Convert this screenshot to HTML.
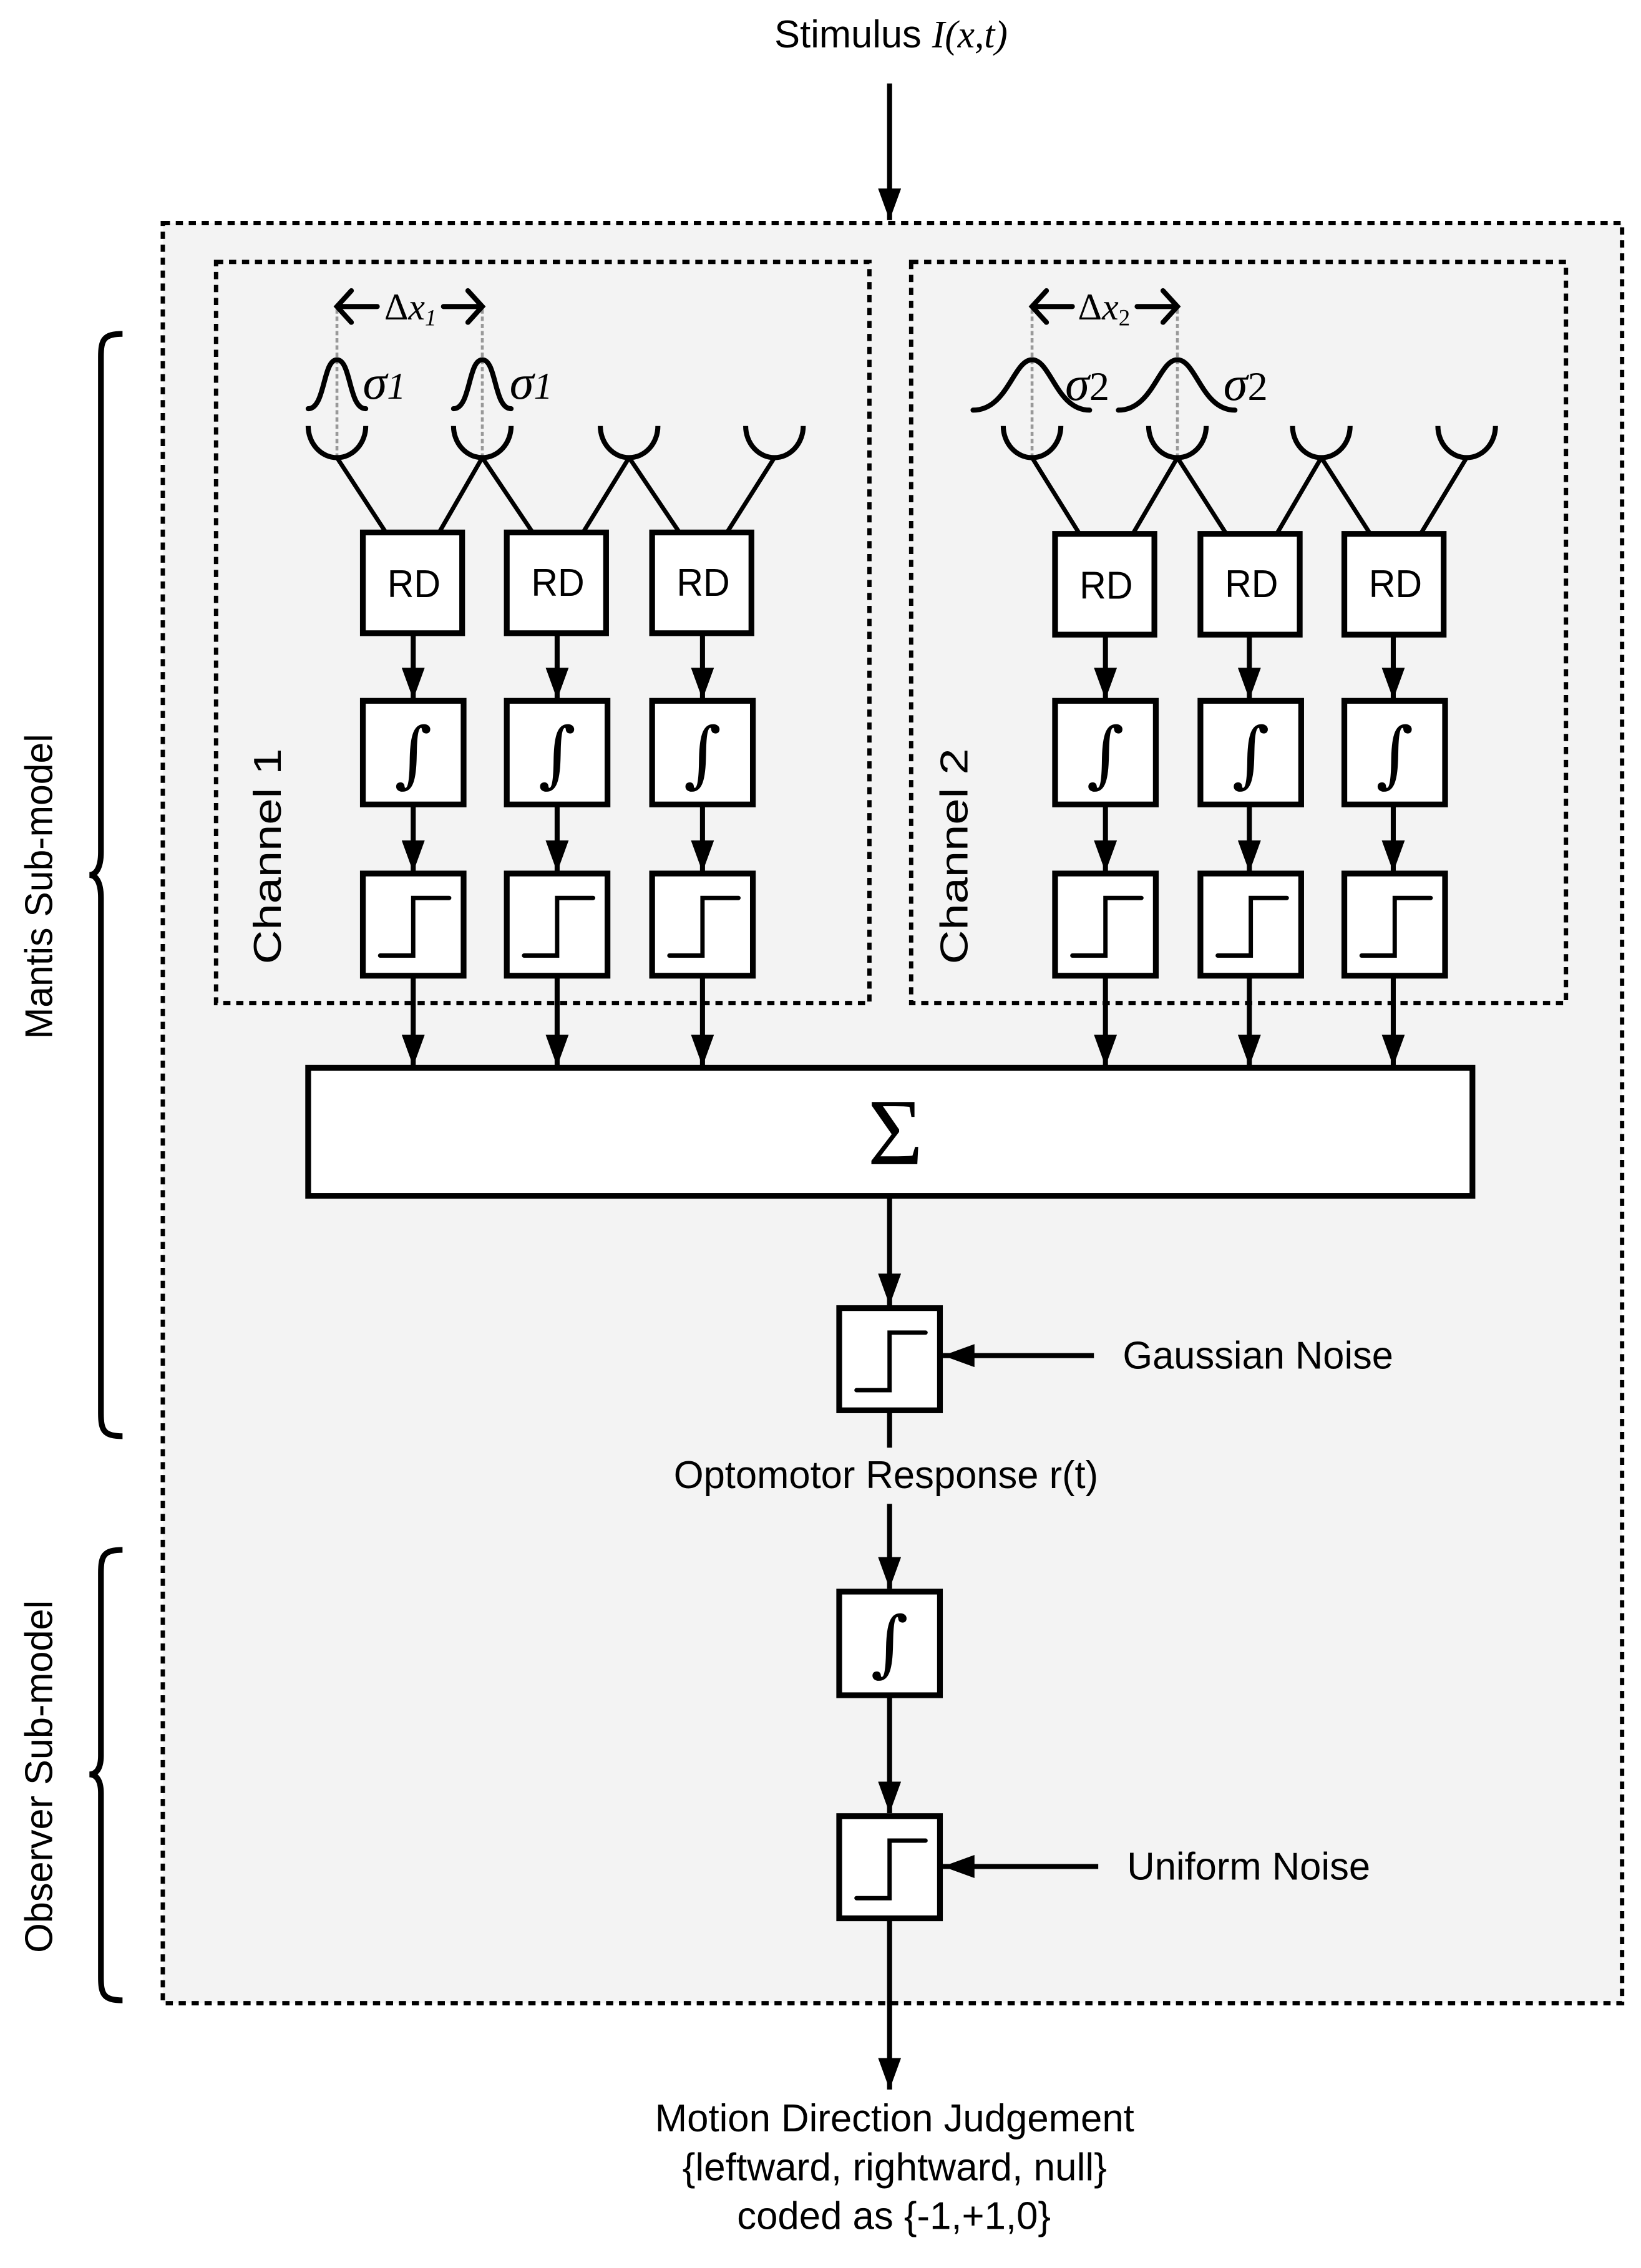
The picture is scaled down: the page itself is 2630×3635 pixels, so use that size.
<!DOCTYPE html>
<html><head><meta charset="utf-8"><style>html,body{margin:0;padding:0;background:#fff}svg{display:block}</style></head>
<body>
<svg xmlns="http://www.w3.org/2000/svg" width="2630" height="3635" viewBox="0 0 1140 1576" font-family="Liberation Sans, sans-serif">
<defs>
<marker id="ah" markerWidth="22" markerHeight="16" refX="22" refY="8" orient="auto" markerUnits="userSpaceOnUse" viewBox="0 0 22 16"><path d="M0,0 L22,8 L0,16 Z" fill="#000"/></marker>
<g id="stepbox"><rect x="0" y="0" width="70" height="71" fill="#fff" stroke="#000" stroke-width="4"/><path d="M12,57 H35 V17 H60" fill="none" stroke="#000" stroke-width="3" stroke-linecap="round"/></g>
<g id="intbox"><rect x="0" y="0" width="70" height="72" fill="#fff" stroke="#000" stroke-width="4"/></g>
<g id="rdbox"><rect x="0" y="0" width="69" height="70" fill="#fff" stroke="#000" stroke-width="4"/></g>
<path id="cup" d="M-20,296 A20,22 0 0 0 20,296" fill="none" stroke="#000" stroke-width="3.5"/>
</defs>
<rect width="1140" height="1576" fill="#fff"/>
<rect x="113" y="155" width="1014" height="1237" fill="#f3f3f3" stroke="#000" stroke-width="3" stroke-dasharray="5,4"/>
<rect x="150" y="182" width="454" height="515" fill="none" stroke="#000" stroke-width="3" stroke-dasharray="5,4"/>
<rect x="633" y="182" width="455" height="515" fill="none" stroke="#000" stroke-width="3" stroke-dasharray="5,4"/>

<text x="538" y="33" font-size="27" textLength="162" lengthAdjust="spacingAndGlyphs">Stimulus <tspan font-family="Liberation Serif, serif" font-style="italic">I(x,t)</tspan></text>
<line x1="618" y1="58" x2="618" y2="153" stroke="#000" stroke-width="3.5" marker-end="url(#ah)"/>

<g stroke="#999" stroke-width="2" stroke-dasharray="3,2">
<line x1="234" y1="215" x2="234" y2="318"/><line x1="335" y1="215" x2="335" y2="318"/>
<line x1="717" y1="215" x2="717" y2="318"/><line x1="818" y1="215" x2="818" y2="318"/>
</g>
<g stroke="#000" stroke-width="3.5" fill="none" stroke-linecap="round">
<path d="M234,213 H262 M308,213 H335 M244,202 L234,213 L244,224 M325,202 L335,213 L325,224"/>
<path d="M717,213 H745 M790,213 H818 M727,202 L717,213 L727,224 M808,202 L818,213 L808,224"/>
</g>
<g stroke="#000" stroke-width="3.5" fill="none" stroke-linecap="round">
<path d="M214,284 C226,284 224,250 234,250 C244,250 242,284 254,284"/>
<path d="M315,284 C327,284 325,250 335,250 C345,250 343,284 355,284"/>
<path d="M676,285 C700,285 704,250 717,250 C730,250 734,285 757,285"/>
<path d="M777,285 C801,285 805,250 818,250 C831,250 835,285 858,285"/>
</g>
<text x="285" y="222" font-size="26" font-family="Liberation Serif, serif" text-anchor="middle">Δ<tspan font-style="italic">x</tspan><tspan font-size="16" dy="4" font-style="italic">1</tspan></text>
<text x="767" y="222" font-size="26" font-family="Liberation Serif, serif" text-anchor="middle">Δ<tspan font-style="italic">x</tspan><tspan font-size="16" dy="4">2</tspan></text>
<g font-family="Liberation Serif, serif" font-style="italic" font-size="34">
<text x="252" y="277">σ<tspan font-size="26">1</tspan></text>
<text x="354" y="277">σ<tspan font-size="26">1</tspan></text>
<text x="740" y="278">σ<tspan font-size="28" font-style="normal">2</tspan></text>
<text x="850" y="278">σ<tspan font-size="28" font-style="normal">2</tspan></text>
</g>
<g>
<use href="#cup" x="234"/><use href="#cup" x="335"/><use href="#cup" x="437"/><use href="#cup" x="538"/>
<use href="#cup" x="717"/><use href="#cup" x="818"/><use href="#cup" x="918"/><use href="#cup" x="1019"/>
</g>
<g stroke="#000" stroke-width="3">
<line x1="234" y1="318" x2="268" y2="370"/><line x1="335" y1="318" x2="305" y2="370"/><line x1="335" y1="318" x2="370" y2="370"/>
<line x1="437" y1="318" x2="405" y2="370"/><line x1="437" y1="318" x2="472" y2="370"/><line x1="538" y1="318" x2="505" y2="370"/>
<line x1="717" y1="318" x2="750" y2="371"/><line x1="818" y1="318" x2="787" y2="371"/><line x1="818" y1="318" x2="852" y2="371"/>
<line x1="918" y1="318" x2="887" y2="371"/><line x1="918" y1="318" x2="952" y2="371"/><line x1="1019" y1="318" x2="987" y2="371"/>
</g>
<g stroke="#000" stroke-width="3.5" marker-end="url(#ah)">
<line x1="287" y1="440" x2="287" y2="486"/><line x1="387" y1="440" x2="387" y2="486"/><line x1="488" y1="440" x2="488" y2="486"/>
<line x1="768" y1="441" x2="768" y2="486"/><line x1="868" y1="441" x2="868" y2="486"/><line x1="968" y1="441" x2="968" y2="486"/>
<line x1="287" y1="559" x2="287" y2="606"/><line x1="387" y1="559" x2="387" y2="606"/><line x1="488" y1="559" x2="488" y2="606"/>
<line x1="768" y1="559" x2="768" y2="606"/><line x1="868" y1="559" x2="868" y2="606"/><line x1="968" y1="559" x2="968" y2="606"/>
<line x1="287" y1="678" x2="287" y2="741"/><line x1="387" y1="678" x2="387" y2="741"/><line x1="488" y1="678" x2="488" y2="741"/>
<line x1="768" y1="678" x2="768" y2="741"/><line x1="868" y1="678" x2="868" y2="741"/><line x1="968" y1="678" x2="968" y2="741"/>
</g>
<g>
<use href="#rdbox" x="252" y="370"/><use href="#rdbox" x="352" y="370"/><use href="#rdbox" x="453" y="370"/>
<use href="#rdbox" x="733" y="371"/><use href="#rdbox" x="834" y="371"/><use href="#rdbox" x="934" y="371"/>
<use href="#intbox" x="252" y="487"/><use href="#intbox" x="352" y="487"/><use href="#intbox" x="453" y="487"/>
<use href="#intbox" x="733" y="487"/><use href="#intbox" x="834" y="487"/><use href="#intbox" x="934" y="487"/>
<use href="#stepbox" x="252" y="607"/><use href="#stepbox" x="352" y="607"/><use href="#stepbox" x="453" y="607"/>
<use href="#stepbox" x="733" y="607"/><use href="#stepbox" x="834" y="607"/><use href="#stepbox" x="934" y="607"/>
</g>
<g font-size="27">
<text x="269" y="415" textLength="37" lengthAdjust="spacingAndGlyphs">RD</text>
<text x="369" y="414" textLength="37" lengthAdjust="spacingAndGlyphs">RD</text>
<text x="470" y="414" textLength="37" lengthAdjust="spacingAndGlyphs">RD</text>
<text x="750" y="416" textLength="37" lengthAdjust="spacingAndGlyphs">RD</text>
<text x="851" y="415" textLength="37" lengthAdjust="spacingAndGlyphs">RD</text>
<text x="951" y="415" textLength="37" lengthAdjust="spacingAndGlyphs">RD</text>
</g>
<g font-family="DejaVu Serif, Liberation Serif, serif" font-style="italic" font-size="50" text-anchor="middle">
<text x="287" y="541">∫</text><text x="387" y="541">∫</text><text x="488" y="541">∫</text>
<text x="768" y="541">∫</text><text x="869" y="541">∫</text><text x="969" y="541">∫</text>
<text x="618" y="1159">∫</text>
</g>
<text transform="translate(195,670) rotate(-90)" font-size="27" textLength="150" lengthAdjust="spacingAndGlyphs">Channel 1</text>
<text transform="translate(672,670) rotate(-90)" font-size="27" textLength="150" lengthAdjust="spacingAndGlyphs">Channel 2</text>

<rect x="214" y="742" width="809" height="89" fill="#fff" stroke="#000" stroke-width="4"/>
<text x="622" y="809" font-family="Liberation Serif, serif" font-size="66" text-anchor="middle">Σ</text>
<line x1="618" y1="831" x2="618" y2="907" stroke="#000" stroke-width="3.5" marker-end="url(#ah)"/>
<use href="#stepbox" x="583" y="909"/>
<line x1="760" y1="942" x2="655" y2="942" stroke="#000" stroke-width="3.5" marker-end="url(#ah)"/>
<text x="780" y="951" font-size="27" textLength="188" lengthAdjust="spacingAndGlyphs">Gaussian Noise</text>
<line x1="618" y1="980" x2="618" y2="1006" stroke="#000" stroke-width="3.5"/>
<text x="468" y="1034" font-size="27" textLength="295" lengthAdjust="spacingAndGlyphs">Optomotor Response r(t)</text>
<line x1="618" y1="1045" x2="618" y2="1104" stroke="#000" stroke-width="3.5" marker-end="url(#ah)"/>
<use href="#intbox" x="583" y="1106"/>
<text x="618" y="1159" font-family="DejaVu Serif, Liberation Serif, serif" font-style="italic" font-size="50" text-anchor="middle">∫</text>
<line x1="618" y1="1178" x2="618" y2="1260" stroke="#000" stroke-width="3.5" marker-end="url(#ah)"/>
<use href="#stepbox" x="583" y="1262"/>
<line x1="763" y1="1297" x2="655" y2="1297" stroke="#000" stroke-width="3.5" marker-end="url(#ah)"/>
<text x="783" y="1306" font-size="27" textLength="169" lengthAdjust="spacingAndGlyphs">Uniform Noise</text>
<line x1="618" y1="1333" x2="618" y2="1452" stroke="#000" stroke-width="3.5" marker-end="url(#ah)"/>
<g font-size="27">
<text x="455" y="1481" textLength="333" lengthAdjust="spacingAndGlyphs">Motion Direction Judgement</text>
<text x="474" y="1515" textLength="295" lengthAdjust="spacingAndGlyphs">{leftward, rightward, null}</text>
<text x="512" y="1549" textLength="218" lengthAdjust="spacingAndGlyphs">coded as {-1,+1,0}</text>
</g>

<path d="M85,232 C72,232 70,236 70,248 L70,592 C70,604 66,608 62,608 C66,608 70,612 70,624 L70,982 C70,994 72,998 85,998" fill="none" stroke="#000" stroke-width="4"/>
<path d="M85,1077 C72,1077 70,1081 70,1093 L70,1220 C70,1230 66,1233 62,1233 C66,1233 70,1236 70,1246 L70,1374 C70,1386 72,1390 85,1390" fill="none" stroke="#000" stroke-width="4"/>
<text transform="translate(36,722) rotate(-90)" font-size="27" textLength="212" lengthAdjust="spacingAndGlyphs">Mantis Sub-model</text>
<text transform="translate(36,1357) rotate(-90)" font-size="27" textLength="245" lengthAdjust="spacingAndGlyphs">Observer Sub-model</text>
</svg>
</body></html>
